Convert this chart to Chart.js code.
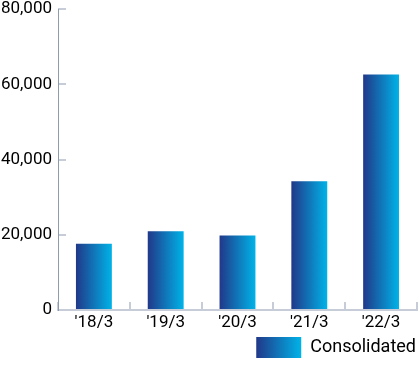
<!DOCTYPE html>
<html>
<head>
<meta charset="utf-8">
<script src="https://cdn.jsdelivr.net/npm/chart.js@4.4.0/dist/chart.umd.min.js"></script>
<style>
  html, body { margin: 0; padding: 0; background: #fff; }
  #wrap { width: 418px; height: 374px; position: relative; }
</style>
</head>
<body>
<div id="wrap"><canvas id="myChart"></canvas></div>
<script>
// data
var periods = ["'18/3", "'19/3", "'20/3", "'21/3", "'22/3"];
var consolidated = [17600, 20900, 19800, 34200, 62600];
var seriesName = 'Consolidated';

var DARK = '#213889';
var LIGHT = '#00b3e8';

function hGradient(ctx, x0, x1) {
    var g = ctx.createLinearGradient(x0, 0, x1, 0);
    g.addColorStop(0, DARK);
    g.addColorStop(1, LIGHT);
    return g;
}

// each bar gets its own gradient, from its left edge to its right edge
function barFill(c) {
    var chart = c.chart;
    var xs = chart.scales.x;
    if (!xs || c.dataIndex === undefined || !chart.chartArea) return DARK;
    var cx = xs.getPixelForValue(c.dataIndex);
    var half = (xs.width / periods.length) * 0.5 / 2;
    return hGradient(chart.ctx, cx - half, cx + half);
}

// legend box gradient, set once the legend knows where it sits
var legendGradient = {
    id: 'legendGradient',
    beforeDraw: function (chart) {
        var lg = chart.legend;
        if (!lg || !lg.legendHitBoxes || !lg.legendHitBoxes.length) return;
        var hb = lg.legendHitBoxes[0];
        var bw = lg.options.labels.boxWidth;
        lg.legendItems[0].fillStyle = hGradient(chart.ctx, hb.left, hb.left + bw);
    }
};

var ctx = document.getElementById('myChart').getContext('2d');
var myChart = new Chart(ctx, {
    type: 'bar',
    data: {
        labels: periods,
        datasets: [{
            label: seriesName,
            data: consolidated,
            backgroundColor: barFill,
            borderWidth: 0,
            barPercentage: 0.5,
            categoryPercentage: 1.0
        }]
    },
    options: {
        responsive: true,
        maintainAspectRatio: false,
        animation: false,
        layout: { padding: { top: 0, right: 1, bottom: 6, left: 0 } },
        scales: {
            x: {
                afterFit: function (s) { s.height = 26; },
                grid: {
                    drawOnChartArea: false,
                    tickLength: -8,
                    color: '#c6cdd8',
                    lineWidth: 2
                },
                border: { color: '#c6cdd8', width: 2 },
                ticks: {
                    color: '#000',
                    font: { family: 'Roboto', size: 17 },
                    padding: 11
                }
            },
            y: {
                min: 0,
                max: 80000,
                afterFit: function (s) { s.width = 58; s.paddingTop = 9; },
                grid: {
                    drawOnChartArea: false,
                    tickLength: -8,
                    color: '#c6cdd8',
                    lineWidth: 2
                },
                border: { color: '#8f9cab', width: 1 },
                ticks: {
                    stepSize: 20000,
                    color: '#000',
                    padding: 14,
                    font: { family: 'Roboto', size: 17 },
                    callback: function (v) { return v.toLocaleString('en-US'); }
                }
            }
        },
        plugins: {
            tooltip: { enabled: false },
            legend: {
                position: 'bottom',
                align: 'end',
                labels: {
                    boxWidth: 45,
                    boxHeight: 21,
                    padding: 1,
                    color: '#000',
                    font: { family: 'Roboto', size: 18 }
                }
            }
        }
    },
    plugins: [legendGradient]
});
</script>
</body>
</html>
